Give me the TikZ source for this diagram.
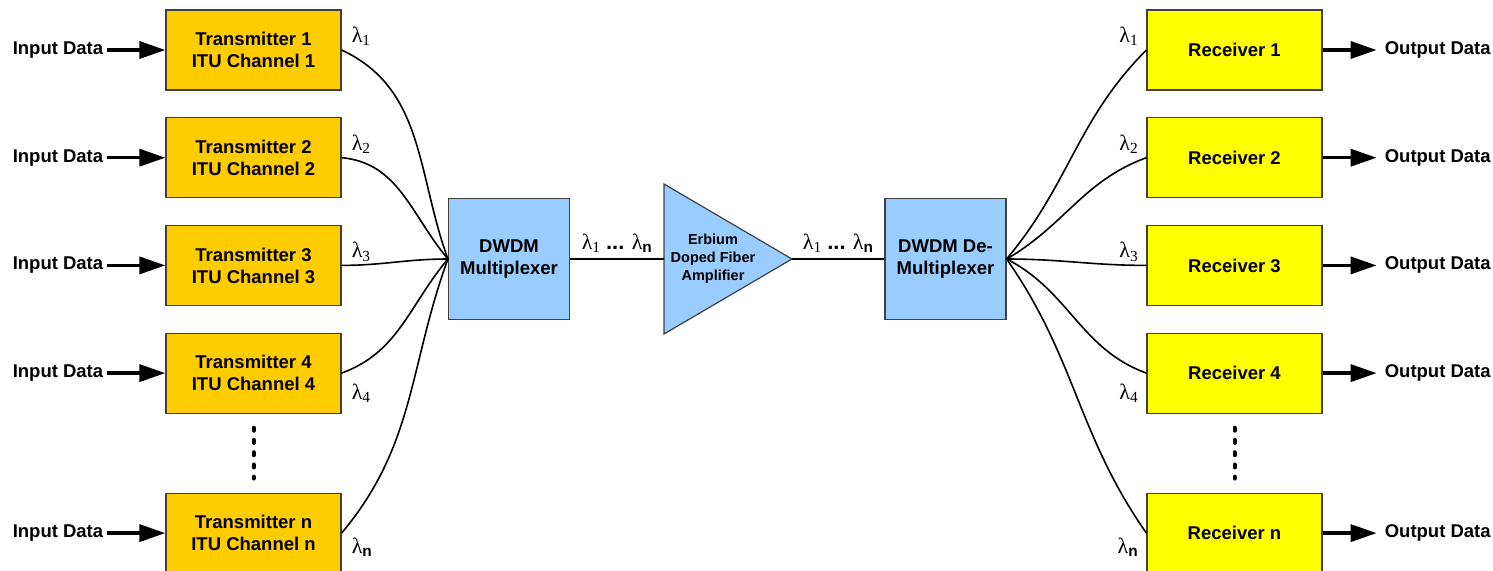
\documentclass[tikz,border=0pt]{standalone}
\usepackage{fontspec}
\setmainfont{Liberation Sans}
\newfontfamily\lamfont{Liberation Serif}
\usetikzlibrary{arrows.meta,positioning}
\definecolor{txfill}{HTML}{FFCC00}
\definecolor{rxfill}{HTML}{FFFF00}
\definecolor{muxfill}{HTML}{99CCFF}
\newcommand\lblfont{\fontsize{18.5}{22}\selectfont\bfseries}
\newcommand\lam[1]{{\lamfont λ}\textsubscript{#1}}
\tikzset{
	txbox/.style={rectangle, draw=black!75, line width=1.2pt, fill=txfill,
		minimum width=175pt, minimum height=80pt, align=center, font=\lblfont, inner sep=2pt},
	rxbox/.style={txbox, fill=rxfill},
	muxbox/.style={txbox, fill=muxfill, minimum width=121pt, minimum height=121pt},
	ampshape/.style={draw=black!75, line width=1.2pt, fill=muxfill, line join=miter},
	datalbl/.style={font=\lblfont, inner sep=4pt},
	datarr/.style={-{Triangle[length=26pt,width=17pt]}, line width=3.5pt},
	fiber/.style={line width=1.6pt},
	trunk/.style={line width=2.6pt},
	lamlbl/.style={font=\fontsize{22}{22}\selectfont\lamfont, inner sep=0pt},
	vdots/.style={line width=4pt, line cap=round, dash pattern=on 3pt off 9.25pt}
}

\begin{document}
\begin{tikzpicture}[x=1pt, y=1pt, node distance=26.5pt and 58pt]
	\useasboundingbox (0,0) rectangle (1493,-570);
	% transmitter column
	\node[txbox] (tx1) at (253.5,-50) {Transmitter 1\\ITU Channel 1};
	\node[txbox, below=of tx1] (tx2) {Transmitter 2\\ITU Channel 2};
	\node[txbox, below=of tx2] (tx3) {Transmitter 3\\ITU Channel 3};
	\node[txbox, below=of tx3] (tx4) {Transmitter 4\\ITU Channel 4};
	\node[txbox, below=78.8pt of tx4] (txn) {Transmitter n\\ITU Channel n};
	% receiver column
	\node[rxbox] (rx1) at (1234.5,-50) {Receiver 1};
	\node[rxbox, below=of rx1] (rx2) {Receiver 2};
	\node[rxbox, below=of rx2] (rx3) {Receiver 3};
	\node[rxbox, below=of rx3] (rx4) {Receiver 4};
	\node[rxbox, below=78.8pt of rx4] (rxn) {Receiver n};
	\draw[vdots] ([yshift=-14pt]tx4.south) -- ([yshift=14pt]txn.north);
	\draw[vdots] ([yshift=-14pt]rx4.south) -- ([yshift=14pt]rxn.north);
	% data in / out
	\foreach \i in {1,2,3,4,n} {
		\node[datalbl, left=of tx\i] (in\i) {Input Data};
		\node[datalbl, right=of rx\i] (out\i) {Output Data};
		\draw[datarr] (in\i) -- (tx\i);
		\draw[datarr, shorten >=4pt] (rx\i) -- (out\i);
	}
	% mux, EDFA, demux
	\node[muxbox] (mux) at (509,-259) {DWDM\\Multiplexer};
	\draw[ampshape] (664,-184) -- (792,-259) -- (664,-334) -- cycle;
	\coordinate (ampin) at (664,-259);
	\coordinate (ampout) at (792,-259);
	\node[font=\fontsize{14.5}{18}\selectfont\bfseries, align=center] (amp) at (713,-259) {Erbium\\Doped Fiber\\Amplifier};
	\node[muxbox] (demux) at (945.5,-259) {DWDM De-\\Multiplexer};
	\draw[trunk] (mux) -- node[lamlbl, above=5pt] (band1) {\lam{1} {\normalfont\bfseries ...} \lam{\normalfont\bfseries n}} (ampin);
	\draw[trunk] (ampout) -- node[lamlbl, above=5pt] (band2) {\lam{1} {\normalfont\bfseries ...} \lam{\normalfont\bfseries n}} (demux);
	% fibres into the mux and out of the demux
	\foreach \i/\aout/\ain in {1/-25/110, 2/-5/130, 3/0/180, 4/20/230, n/50/250}
		\draw[fiber] (tx\i.east) to[out=\aout, in=\ain] (mux.west);
	\foreach \i/\aout/\ain in {1/50/225, 2/30/200, 3/0/180, 4/-27/160, n/-55/125}
		\draw[fiber] (demux.east) to[out=\aout, in=\ain] (rx\i.west);
	% wavelength tags
	\foreach \i/\side/\dy/\sub in {1/south/4/1, 2/south/4/2, 3/south/4/3, 4/north/-11/4, n/north/-5/{\normalfont\bfseries n}} {
		\node[lamlbl, anchor=\side\space west] (ltx\i) at ([xshift=10pt, yshift=\dy pt]tx\i.east) {\lam{\sub}};
		\node[lamlbl, anchor=\side\space east] (lrx\i) at ([xshift=-8pt, yshift=\dy pt]rx\i.west) {\lam{\sub}};
	}
\end{tikzpicture}
\end{document}
